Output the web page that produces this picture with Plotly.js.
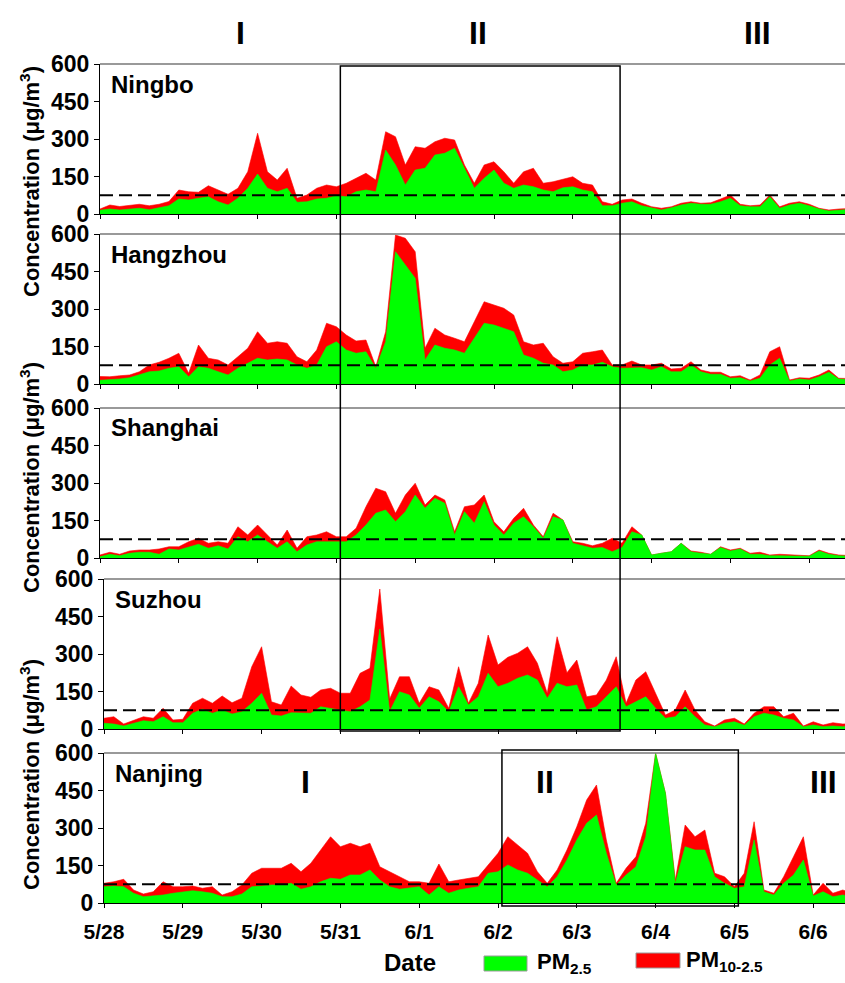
<!DOCTYPE html>
<html><head><meta charset="utf-8">
<script src="https://cdn.plot.ly/plotly-3.0.1.min.js"></script>
<style>html,body{margin:0;padding:0;background:#fff}#chart{width:845px;height:983px}</style>
</head><body><div id="chart"></div>
<script>
// ---------- DATA (3-hourly readings starting 5/28 00:00) ----------
const cities = ['Ningbo', 'Hangzhou', 'Shanghai', 'Suzhou', 'Nanjing'];
const dateTicks = ['5/28', '5/29', '5/30', '5/31', '6/1', '6/2', '6/3', '6/4', '6/5', '6/6'];
const yTicks = [0, 150, 300, 450, 600];
const standardLimit = 75;
const stepHours = 3;

const ningboPM25 = [15,20,16,20,23,17,25,33,60,56,63,69,49,36,63,103,160,103,89,103,47,49,60,63,73,69,89,96,89,256,196,116,176,183,236,243,263,183,103,143,176,123,103,116,109,96,89,105,109,96,89,33,33,43,49,33,23,16,25,36,43,39,39,49,63,33,29,29,69,23,36,43,33,20,12,16,18];
const ningboPM10 = [20,36,30,33,39,33,39,50,96,89,87,113,96,79,103,169,323,169,136,183,63,76,103,116,109,123,143,163,136,329,309,196,269,263,289,303,296,196,123,196,209,169,123,169,183,123,129,140,149,123,116,49,39,56,60,43,29,23,29,43,49,43,45,60,76,39,33,36,76,29,43,49,39,23,16,20,22];

const hangzhouPM25 = [15,16,20,25,36,49,52,63,69,29,69,63,49,36,63,83,103,96,100,96,76,63,76,149,169,136,123,129,63,169,529,476,423,96,156,143,136,123,183,243,236,223,209,116,103,83,76,49,56,76,76,87,69,63,65,65,56,69,49,49,76,49,39,39,23,25,12,23,76,103,12,20,16,29,47,20,18];
const hangzhouPM10 = [30,29,33,36,49,76,87,103,123,43,156,103,96,76,109,143,209,163,169,163,109,89,136,243,229,196,172,176,69,209,596,583,529,143,223,196,183,169,249,329,316,303,276,169,156,163,109,83,89,123,129,136,76,76,92,76,76,83,60,63,89,56,47,47,29,33,16,36,129,149,16,25,23,36,56,23,22];

const shanghaiPM25 = [5,15,9,19,23,23,15,36,32,45,55,39,49,36,85,65,92,65,39,65,25,52,65,65,65,65,92,132,179,192,145,185,252,199,239,219,92,185,139,225,132,92,139,165,125,79,165,152,59,49,39,42,25,42,105,92,12,19,25,59,25,19,15,42,28,36,15,15,9,9,9,7,7,28,15,9,8];
const shanghaiPM10 = [12,23,15,28,32,32,36,45,45,65,79,59,65,59,125,92,132,92,52,112,39,85,92,105,85,85,119,205,279,265,179,252,299,212,252,232,105,205,212,252,145,105,159,199,132,85,179,152,65,59,49,59,79,59,125,92,12,19,25,59,28,23,15,45,32,39,19,23,12,15,12,9,9,32,19,12,10];

const suzhouPM25 = [23,20,12,23,33,29,49,25,25,63,79,63,76,60,69,103,143,56,52,65,63,63,89,83,76,69,89,116,400,70,149,136,83,129,109,69,169,96,129,223,169,183,203,216,196,123,183,169,176,76,89,129,169,89,109,129,83,43,49,89,49,16,9,23,29,15,49,63,56,43,36,9,16,9,12,9,12];
const suzhouPM10 = [43,49,20,36,49,43,83,36,39,103,123,103,132,105,123,249,329,109,96,172,136,127,156,163,143,143,223,243,560,120,209,209,103,169,156,83,249,103,183,376,256,287,303,329,263,143,369,225,276,129,136,196,289,103,196,229,143,56,76,156,76,29,12,36,43,20,63,89,89,49,63,12,29,16,25,20,22];

const nanjingPM25 = [65,68,65,39,25,28,32,39,45,49,45,39,25,25,36,65,68,72,72,79,55,65,85,99,95,112,112,132,92,65,55,59,65,32,65,39,52,59,65,119,125,152,132,119,92,65,105,172,252,319,352,199,72,112,145,265,599,439,79,225,212,212,105,79,59,65,252,45,32,79,112,172,28,45,25,32,25];
const nanjingPM10 = [79,85,95,52,36,45,85,65,65,68,59,65,32,45,72,119,139,139,139,159,125,159,212,265,225,239,225,239,145,125,105,85,85,79,156,85,92,99,105,152,199,265,232,199,125,79,132,212,305,412,472,252,79,139,185,319,599,439,92,312,265,292,119,105,65,119,325,52,39,105,185,265,32,79,39,52,40];

const pm25Series = [ningboPM25, hangzhouPM25, shanghaiPM25, suzhouPM25, nanjingPM25];
const pm10Series = [ningboPM10, hangzhouPM10, shanghaiPM10, suzhouPM10, nanjingPM10];

// ---------- LAYOUT GEOMETRY ----------
const W = 845, H = 983, pxPerDay = 78.8;
const panelPx = [[64, 214, 100], [234, 384, 100], [408, 558, 100], [579, 729, 104], [753, 903, 104]]; // top, bottom, left
const FONT = 'Liberation Sans, Arial, sans-serif';
const px = v => v / W, py = v => 1 - v / H;

const traces = [];
const layout = {
  width: W, height: H, margin: {l: 0, r: 0, t: 0, b: 0},
  paper_bgcolor: '#fff', plot_bgcolor: '#fff', showlegend: false,
  shapes: [], annotations: []
};

cities.forEach((city, k) => {
  const n = k + 1;
  const xa = 'x' + (n === 1 ? '' : n), ya = 'y' + (n === 1 ? '' : n);
  const [top, bottom, left] = panelPx[k];
  const xMax = (W - left) / pxPerDay;
  const days = pm25Series[k].map((_, i) => i * stepHours / 24);
  traces.push({
    x: days, y: pm10Series[k], xaxis: xa, yaxis: ya, type: 'scatter', mode: 'lines',
    fill: 'tozeroy', fillcolor: '#ff0000', line: {color: '#ff0000', width: 0.6}, name: 'PM10-2.5', hoverinfo: 'skip'
  });
  traces.push({
    x: days, y: pm25Series[k], xaxis: xa, yaxis: ya, type: 'scatter', mode: 'lines',
    fill: 'tozeroy', fillcolor: '#00ff00', line: {color: '#00ff00', width: 0.6}, name: 'PM2.5', hoverinfo: 'skip'
  });
  layout['xaxis' + (n === 1 ? '' : n)] = {
    domain: [px(left), 1], range: [0, xMax], anchor: ya,
    tickvals: dateTicks.map((_, i) => i), ticktext: dateTicks,
    showticklabels: n === 5, ticks: 'outside', ticklen: 4, tickcolor: '#000',
    showline: true, linecolor: '#000', linewidth: 1, showgrid: false, zeroline: false,
    tickfont: {family: FONT, size: 21, color: '#000', weight: 'bold'}, ticklabelstandoff: 6, fixedrange: true
  };
  layout['yaxis' + (n === 1 ? '' : n)] = {
    domain: [py(bottom), py(top)], range: [0, 600], anchor: xa,
    tickvals: yTicks, ticks: 'outside', ticklen: 5, tickcolor: '#000',
    showline: true, linecolor: '#000', linewidth: 1, showgrid: false, zeroline: false,
    tickfont: {family: FONT, size: 23, color: '#000', weight: 'bold'}, fixedrange: true
  };
  // top frame line
  layout.shapes.push({type: 'line', xref: 'paper', yref: 'paper', x0: px(left), x1: 1, y0: py(top), y1: py(top),
    line: {color: '#777', width: 1.5}});
  // standard dashed line
  layout.shapes.push({type: 'line', xref: xa, yref: ya, x0: 0, x1: xMax, y0: standardLimit, y1: standardLimit,
    line: {color: '#000', width: 2, dash: '13px,6px'}});
  layout.annotations.push({text: city, xref: 'paper', yref: 'paper', x: px(left + 9), y: py(top + 20),
    xanchor: 'left', yanchor: 'middle', showarrow: false,
    font: {family: FONT, size: 24, color: '#000', weight: 'bold'}});
});

// episode boxes
layout.shapes.push({type: 'rect', xref: 'x', yref: 'paper', x0: 3.05, x1: 6.6, y0: py(731), y1: py(66),
  line: {color: '#000', width: 1.5}, fillcolor: 'rgba(0,0,0,0)'});
layout.shapes.push({type: 'rect', xref: 'x5', yref: 'paper', x0: 5.05, x1: 8.05, y0: py(906), y1: py(750),
  line: {color: '#000', width: 1.5}, fillcolor: 'rgba(0,0,0,0)'});

const ann = (text, x, y, size, extra) => layout.annotations.push(Object.assign({
  text, xref: 'paper', yref: 'paper', x: px(x), y: py(y), xanchor: 'center', yanchor: 'middle', showarrow: false,
  font: {family: FONT, size, color: '#000', weight: 'bold'}}, extra || {}));

// Episode numerals
ann('I', 240, 33, 32); ann('II', 478, 33, 32); ann('III', 757, 33, 32);
ann('I', 305, 782, 32); ann('II', 545, 782, 32); ann('III', 823, 782, 32);

// y titles
const yTitle = 'Concentration (μg/m<sup>3</sup>)';
ann(yTitle, 30, 182, 22, {textangle: -90});
ann(yTitle, 30, 478, 22, {textangle: -90});
ann(yTitle, 30, 775, 22, {textangle: -90});

// x title and legend
ann('Date', 410, 962, 24);
layout.shapes.push({type: 'rect', xref: 'paper', yref: 'paper', x0: px(484), x1: px(527), y0: py(971), y1: py(956),
  fillcolor: '#00ff00', line: {color: '#999', width: 1}});
layout.shapes.push({type: 'rect', xref: 'paper', yref: 'paper', x0: px(636), x1: px(680), y0: py(968), y1: py(953),
  fillcolor: '#ff0000', line: {color: '#999', width: 1}});
ann('PM<sub>2.5</sub>', 535, 963, 22, {xanchor: 'left'});
ann('PM<sub>10-2.5</sub>', 684, 961, 22, {xanchor: 'left'});

Plotly.newPlot('chart', traces, layout, {displayModeBar: false, staticPlot: true});
</script>
</body></html>
